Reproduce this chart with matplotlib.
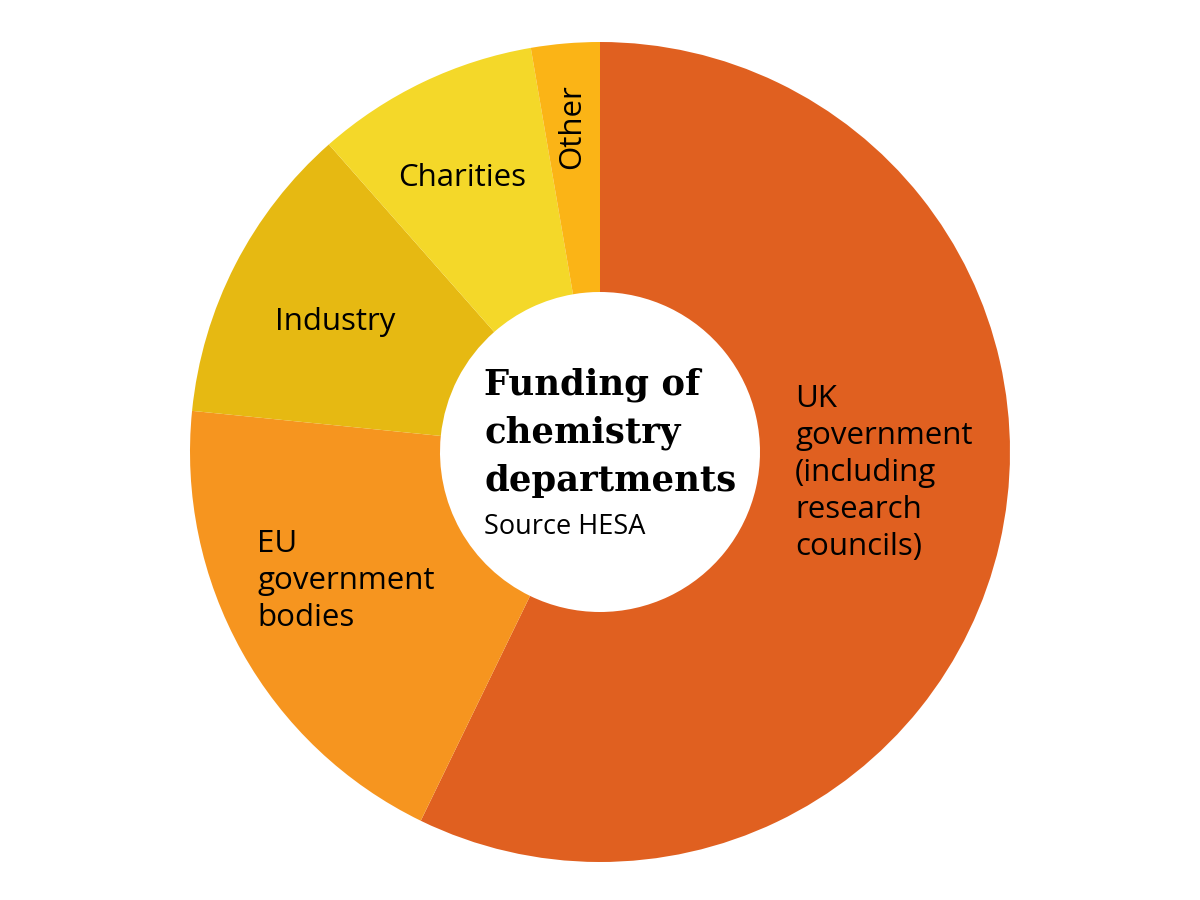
import matplotlib
matplotlib.use('Agg')
import matplotlib.pyplot as plt

labels = ['UK government (including research councils)', 'EU government bodies',
          'Industry', 'Charities', 'Other']
shares = [57.2, 19.4, 11.9, 8.8, 2.7]
colors = ['#E06020', '#F6951F', '#E6B912', '#F4D829', '#FBB416']

fig = plt.figure(figsize=(12, 9), dpi=100)
ax = fig.add_axes([0, 0, 1, 1])

ax.pie(shares, colors=colors, center=(600, 448), radius=410,
       startangle=90, counterclock=False,
       wedgeprops=dict(width=250, linewidth=0))

# pie() resets the limits, so set them afterwards
ax.set_xlim(0, 1200)
ax.set_ylim(0, 900)
ax.set_aspect('equal')
ax.axis('off')

lab = dict(family='Open Sans', fontsize=22.5, color='black', linespacing=1.3)
ax.text(795, 900 - 384, 'UK\ngovernment\n(including\nresearch\ncouncils)',
        ha='left', va='top', **lab)
ax.text(257, 900 - 529, 'EU\ngovernment\nbodies', ha='left', va='top', **lab)
ax.text(335, 900 - 322, 'Industry', ha='center', va='center', **lab)
ax.text(462, 900 - 178, 'Charities', ha='center', va='center', **lab)
ax.text(572, 900 - 127, 'Other', ha='center', va='center', rotation=90, **lab)

ax.text(484, 900 - 368, 'Funding of\nchemistry\ndepartments', ha='left', va='top',
        family='DejaVu Serif', fontweight='bold', fontsize=25.5, linespacing=1.5)
ax.text(484, 900 - 527, 'Source HESA', ha='left', va='center',
        family='Open Sans', fontsize=19.5)

fig.savefig('out.png', dpi=100)
